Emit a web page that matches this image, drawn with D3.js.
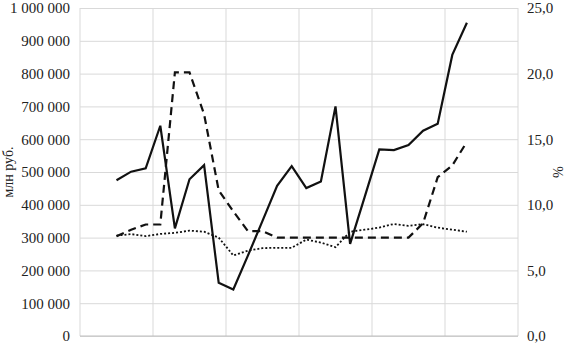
<!DOCTYPE html>
<html>
<head>
<meta charset="utf-8">
<script src="https://cdn.jsdelivr.net/npm/d3@7"></script>
<style>
  body { margin: 0; background: #fff; }
  text { font-family: "Liberation Serif", "Times New Roman", serif; fill: #222; }
</style>
</head>
<body>
<div id="chart"></div>
<script>
// 30 periods on the x axis, no labels shown; data sits in periods 3..27
categories = d3.range(1, 31);

// млн руб. (left axis)
amount = [null, null, 475000, 501000, 511000, 641000, 328000, 478000, 521000, 162000,
  142000, 245000, 351000, 458000, 518000, 451000, 471000, 700000, 281000, 424000,
  569000, 567000, 582000, 626000, 647000, 857000, 955000, null, null, null];

// % (right axis), dashed
rateA = [null, null, 7.6, 8.1, 8.5, 8.5, 20.1, 20.1, 16.9, 11.1,
  9.5, 8.0, 8.0, 7.5, 7.5, 7.5, 7.5, 7.5, 7.5, 7.5,
  7.5, 7.5, 7.5, 8.6, 12.1, 13.0, 14.8, null, null, null];

// % (right axis), dotted
rateB = [null, null, 7.65, 7.77, 7.61, 7.78, 7.86, 8.03, 7.95, 7.5,
  6.14, 6.5, 6.7, 6.72, 6.72, 7.35, 7.12, 6.77, 7.95, 8.1,
  8.26, 8.54, 8.4, 8.52, 8.26, 8.1, 7.95, null, null, null];

leftTicks = [0, 100000, 200000, 300000, 400000, 500000, 600000, 700000, 800000, 900000, 1000000];
rightTicks = [0, 5, 10, 15, 20, 25];

const W = 565, H = 343;
const m = {top: 8, right: 47, bottom: 7, left: 80};

const svg = d3.select('#chart').append('svg')
    .attr('width', W).attr('height', H);

const x = d3.scaleBand().domain(categories).range([m.left, W - m.right]);
const yL = d3.scaleLinear().domain([0, 1000000]).range([H - m.bottom, m.top]);
const yR = d3.scaleLinear().domain([0, 25]).range([H - m.bottom, m.top]);

const fmtL = v => d3.format(',')(v).replace(/,/g, '\u00a0');
const fmtR = v => d3.format('.1f')(v).replace('.', ',');

// horizontal grid
svg.append('g')
    .attr('transform', `translate(${m.left},0)`)
    .call(d3.axisLeft(yL).tickValues(leftTicks).tickSize(-(W - m.left - m.right)).tickFormat(fmtL).tickPadding(10))
    .call(g => g.select('.domain').remove())
    .call(g => g.selectAll('line').attr('stroke', '#d9d9d9'))
    .call(g => g.selectAll('text').attr('font-size', 15).style('font-family', '"Liberation Serif", serif').attr('fill', '#222'));

// vertical grid every 5 periods
const vx = categories.filter((d, i) => i % 5 === 0).map(d => x(d)).concat([W - m.right]);
svg.append('g').selectAll('line')
    .data(vx)
    .join('line')
    .attr('x1', d => d).attr('x2', d => d)
    .attr('y1', m.top).attr('y2', H - m.bottom)
    .attr('stroke', '#d9d9d9');

// bottom line
svg.append('line')
    .attr('x1', m.left).attr('x2', W - m.right)
    .attr('y1', yL(0)).attr('y2', yL(0))
    .attr('stroke', '#bfbfbf');

// right axis labels
svg.append('g')
    .attr('transform', `translate(${W - m.right},0)`)
    .call(d3.axisRight(yR).tickValues(rightTicks).tickSize(0).tickFormat(fmtR).tickPadding(9))
    .call(g => g.select('.domain').remove())
    .call(g => g.selectAll('text').attr('font-size', 15).style('font-family', '"Liberation Serif", serif').attr('fill', '#222'));

// axis titles
svg.append('text')
    .attr('transform', `translate(13,${(m.top + H - m.bottom) / 2}) rotate(-90)`)
    .attr('text-anchor', 'middle')
    .attr('font-size', 14)
    .text('млн руб.');
svg.append('text')
    .attr('transform', `translate(553,${(m.top + H - m.bottom) / 2}) rotate(90)`)
    .attr('text-anchor', 'middle')
    .attr('font-size', 14)
    .text('%');

const cx = d => x(d) + x.bandwidth() / 2;

const lineL = d3.line()
    .defined(d => d[1] != null)
    .x(d => cx(d[0])).y(d => yL(d[1]));
const lineR = d3.line()
    .defined(d => d[1] != null)
    .x(d => cx(d[0])).y(d => yR(d[1]));

svg.append('path')
    .datum(categories.map((c, i) => [c, rateB[i]]))
    .attr('d', lineR)
    .attr('fill', 'none').attr('stroke', '#111')
    .attr('stroke-width', 1.8).attr('stroke-dasharray', '2,2');

svg.append('path')
    .datum(categories.map((c, i) => [c, rateA[i]]))
    .attr('d', lineR)
    .attr('fill', 'none').attr('stroke', '#111')
    .attr('stroke-width', 2.2).attr('stroke-dasharray', '8,5');

svg.append('path')
    .datum(categories.map((c, i) => [c, amount[i]]))
    .attr('d', lineL)
    .attr('fill', 'none').attr('stroke', '#111')
    .attr('stroke-width', 2.2).attr('stroke-linejoin', 'miter');
</script>
</body>
</html>
